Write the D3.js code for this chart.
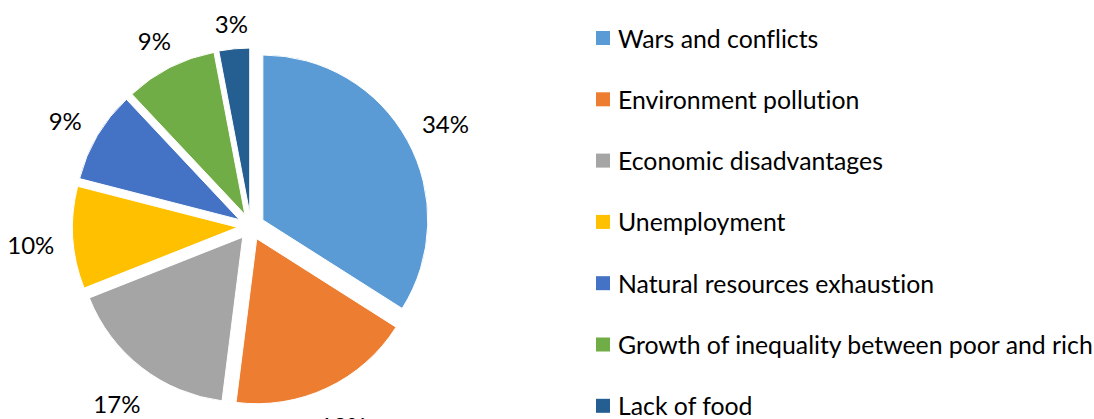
<!DOCTYPE html>
<html>
<head>
<meta charset="utf-8">
<script src="https://cdn.jsdelivr.net/npm/d3@7"></script>
<style>
  body { margin: 0; background: #fff; }
  text { font-family: Lato, "Open Sans", sans-serif; fill: #000; font-variant-ligatures: none; }
</style>
</head>
<body>
<div id="chart"></div>
<script>
// categories and their shares (%)
const categories = [
    "Wars and conflicts",
    "Environment pollution",
    "Economic disadvantages",
    "Unemployment",
    "Natural resources exhaustion",
    "Growth of inequality between poor and rich",
    "Lack of food"
];
const shares = [34, 18, 17, 10, 9, 9, 3];
const colours = ["#5B9BD5", "#ED7D31", "#A5A5A5", "#FFC000", "#4472C4", "#70AD47", "#255E91"];

const width = 1094,
    height = 419;

const cx = 251, cy = 226.5,
    radius = 165,
    explode = 13.5, //every slice pulled out a bit
    labelGap = 18;

let svg = d3.select("#chart").append("svg")
    .attr("width", width)
    .attr("height", height)
    .attr("viewBox", [0, 0, width, height]);

const data = categories.map((c, i) => ({name: c, value: shares[i], colour: colours[i]}));

let pie = d3.pie().sort(null).value(d => d.value);
let arc = d3.arc().innerRadius(0).outerRadius(radius);
const arcs = pie(data);

const mid = d => (d.startAngle + d.endAngle) / 2;

let g = svg.append("g").attr("transform", `translate(${cx},${cy})`);

/*slices*/
g.selectAll(".slice")
    .data(arcs)
    .join("path")
    .attr("class", "slice")
    .attr("fill", d => d.data.colour)
    .attr("stroke", "#fff")
    .attr("stroke-width", 1)
    .attr("transform", d => `translate(${explode * Math.sin(mid(d))},${-explode * Math.cos(mid(d))})`)
    .attr("d", arc);

/*percent labels, outside end*/
let labels = g.selectAll(".lbl")
    .data(arcs)
    .join("text")
    .attr("class", "lbl")
    .attr("font-size", 24)
    .attr("text-anchor", "middle")
    .attr("dominant-baseline", "central")
    .text(d => d.data.value + "%");

labels.each(function(d) {
    const bb = this.getBBox();
    const a = mid(d), sx = Math.sin(a), sy = -Math.cos(a);
    const ext = Math.abs(sx) * bb.width / 2 + Math.abs(sy) * 20 / 2;
    const r = radius + explode + labelGap + ext;
    d3.select(this).attr("x", r * sx).attr("y", r * sy + 4);
});

/*legend*/
let legend = svg.append("g").attr("transform", "translate(596,0)");
let item = legend.selectAll(".item")
    .data(data)
    .join("g")
    .attr("class", "item")
    .attr("transform", (d, i) => `translate(0,${38 + i * 61.3})`);

item.append("rect")
    .attr("x", 0)
    .attr("y", -7)
    .attr("width", 14)
    .attr("height", 14)
    .attr("fill", d => d.colour);

item.append("text")
    .attr("x", 22)
    .attr("y", 0)
    .attr("dominant-baseline", "central")
    .attr("font-size", 24.8)
    .text(d => d.name);
</script>
</body>
</html>
